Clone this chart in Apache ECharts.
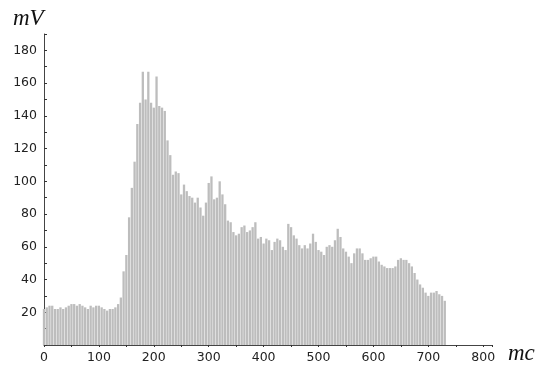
<!DOCTYPE html>
<html>
<head>
<meta charset="utf-8">
<script src="https://cdn.jsdelivr.net/npm/echarts@6/dist/echarts.min.js"></script>
<style>
html,body{margin:0;padding:0;background:#fff;}
#chart{width:538px;height:369px;}
</style>
</head>
<body>
<div id="chart"></div>
<script>
var times = [0,5,10,15,20,25,30,35,40,45,50,55,60,65,70,75,80,85,90,95,
100,105,110,115,120,125,130,135,140,145,150,155,160,165,170,175,180,185,190,195,
200,205,210,215,220,225,230,235,240,245,250,255,260,265,270,275,280,285,290,295,
300,305,310,315,320,325,330,335,340,345,350,355,360,365,370,375,380,385,390,395,
400,405,410,415,420,425,430,435,440,445,450,455,460,465,470,475,480,485,490,495,
500,505,510,515,520,525,530,535,540,545,550,555,560,565,570,575,580,585,590,595,
600,605,610,615,620,625,630,635,640,645,650,655,660,665,670,675,680,685,690,695,
700,705,710,715,720,725,730];
var voltage = [22,23,24,24,22,22,23,22,23,24,25,25,24,25,24,23,22,24,23,24,
24,23,22,21,22,22,23,25,29,45,55,78,96,112,135,148,167,150,167,148,
145,164,146,145,143,125,116,104,106,105,92,98,94,91,90,87,90,84,79,87,
99,103,89,90,100,92,86,76,75,69,67,68,72,73,69,70,72,75,65,66,
62,65,64,58,63,65,64,60,58,74,72,67,65,61,59,61,59,62,68,63,
58,57,55,60,61,60,64,71,66,59,57,54,50,56,59,59,56,52,52,53,
54,54,51,49,48,47,47,47,48,52,53,52,52,50,48,44,40,37,35,32,
30,32,32,33,31,30,27];
var xTicks = [0,100,200,300,400,500,600,700,800];
var yTicks = [20,40,60,80,100,120,140,160,180];

var data = times.map(function(t,i){return [t, voltage[i]];});
var chart = echarts.init(document.getElementById('chart'), null, {renderer:'canvas'});
var labelFont = {color:'#222', fontFamily:'DejaVu Sans', fontSize:12.5};
chart.setOption({
  animation:false,
  grid:{left:44, right:46, top:34, bottom:24, containLabel:false},
  xAxis:{
    type:'value', min:0, max:816, interval:100,
    axisLine:{lineStyle:{color:'#444', width:1}},
    axisTick:{show:true, inside:false, length:2, lineStyle:{color:'#333'}},
    minorTick:{show:true, splitNumber:2, length:2, lineStyle:{color:'#333'}},
    splitLine:{show:false},
    axisLabel:Object.assign({margin:6, showMaxLabel:false, formatter:function(v){return xTicks.indexOf(v)>=0? String(v):'';}}, labelFont)
  },
  yAxis:{
    type:'value', min:0, max:190, interval:20,
    axisLine:{show:true, lineStyle:{color:'#444', width:1}},
    axisTick:{show:true, inside:true, length:3, lineStyle:{color:'#333'}},
    minorTick:{show:true, splitNumber:2, length:3, lineStyle:{color:'#333'}},
    splitLine:{show:false},
    axisLabel:Object.assign({margin:7, showMinLabel:false, showMaxLabel:false, formatter:function(v){return yTicks.indexOf(v)>=0? String(v):'';}}, labelFont)
  },
  graphic:[
    {type:'text', left:13, top:7, style:{text:'mV', font:'italic 23px "Liberation Serif"', fill:'#111'}},
    {type:'text', left:508, top:342, style:{text:'mc', font:'italic 23px "Liberation Serif"', fill:'#111'}}
  ],
  series:[{
    type:'bar', data:data, barWidth:2.3,
    itemStyle:{color:'#bdbdbd'},
    emphasis:{disabled:true}
  }]
});
</script>
</body>
</html>
